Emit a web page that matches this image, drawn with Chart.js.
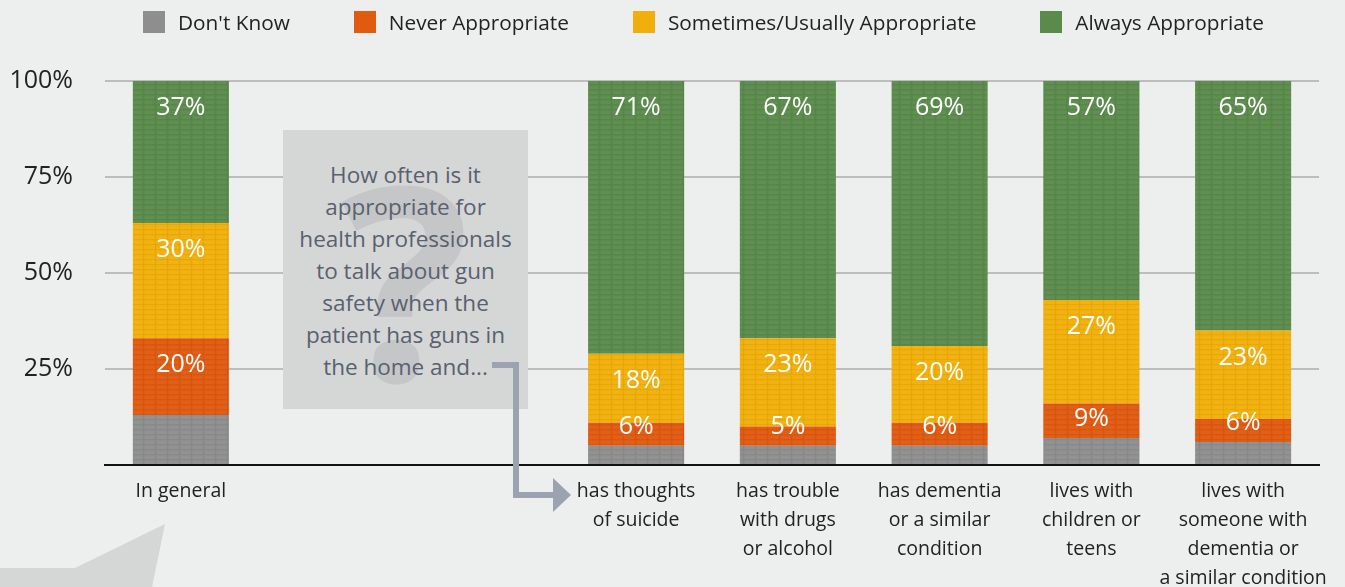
<!DOCTYPE html>
<html lang="en">
<head>
<meta charset="UTF-8" />
<title>Gun safety conversations</title>
<script src="https://cdn.jsdelivr.net/npm/chart.js"></script>
<style>
    body { margin: 0; background: #edefee; font-family: "Open Sans", Lato, sans-serif; }
    .wrap { position: relative; width: 1345px; height: 587px; }
    .legend { position: absolute; left: 143px; top: 11px; display: flex; gap: 64px; font-size: 20.8px; color: #222; }
    .legend span { display: flex; align-items: center; height: 22px; }
    .legend i { display: inline-block; width: 22px; height: 22px; margin-right: 13px; }
    .qbox {
        position: absolute; left: 283px; top: 130px; width: 245px; height: 279px;
        background: #d5d6d6; overflow: hidden;
    }
    .qbox .mark {
        position: absolute; left: 0; right: 0; top: 146px; text-align: center;
        font-size: 270px; font-weight: 700; line-height: 0; color: #c5c6c7;
    }
    .qbox .txt {
        position: absolute; left: 0; right: 0; top: 29px; text-align: center;
        font-size: 22.5px; line-height: 32px; color: #59616e;
    }
    svg { position: absolute; left: 0; top: 0; }
</style>
</head>
<body>
<div class="wrap">
    <canvas id="c" width="1345" height="587"></canvas>
    <div class="legend" id="legend"></div>
    <div class="qbox">
        <div class="mark">?</div>
        <div class="txt">How often is it<br>appropriate for<br>health professionals<br>to talk about gun<br>safety when the<br>patient has guns in<br>the home and...</div>
    </div>
    <svg width="1345" height="587">
        <polygon points="0,568 75,568 165,524 152,587 0,587" fill="#d5d6d6" />
        <polyline points="492,365 516,365 516,495 555,495" fill="none" stroke="#9ba3b0" stroke-width="6" />
        <polygon points="553,478 571,495 553,512" fill="#9ba3b0" />
    </svg>
</div>

<script>
    // categories (two blank slots leave room for the question box)
    const categories = [
        ['In general'],
        '',
        '',
        ['has thoughts', 'of suicide'],
        ['has trouble', 'with drugs', 'or alcohol'],
        ['has dementia', 'or a similar', 'condition'],
        ['lives with', 'children or', 'teens'],
        ['lives with', 'someone with', 'dementia or', 'a similar condition']
    ];

    const dontKnow  = [13, null, null, 5, 5, 5, 7, 6];
    const never     = [20, null, null, 6, 5, 6, 9, 6];
    const sometimes = [30, null, null, 18, 23, 20, 27, 23];
    const always    = [37, null, null, 71, 67, 69, 57, 65];

    const yTicks = [0, 25, 50, 75, 100];

    const seriesNames = ["Don't Know", 'Never Appropriate', 'Sometimes/Usually Appropriate', 'Always Appropriate'];
    const seriesColors = ['#8e8e8e', '#e05a10', '#f1af0b', '#5b8b4c'];

    const canvas = document.getElementById('c');
    const ctx = canvas.getContext('2d');

    // woven texture like the original bars
    function burlap(color) {
        const t = document.createElement('canvas');
        t.width = 12; t.height = 10;
        const g = t.getContext('2d');
        g.fillStyle = color;
        g.fillRect(0, 0, 12, 10);
        g.fillStyle = 'rgba(255,255,255,0.04)';
        g.fillRect(1, 1, 9, 3);
        g.fillRect(1, 6, 9, 3);
        g.fillStyle = 'rgba(0,0,0,0.035)';
        g.fillRect(0, 4, 12, 1);
        g.fillRect(0, 9, 12, 1);
        g.fillRect(11, 0, 1, 10);
        return ctx.createPattern(t, 'repeat');
    }

    // html legend
    const legendEl = document.getElementById('legend');
    seriesNames.forEach((name, i) => {
        const s = document.createElement('span');
        s.innerHTML = '<i style="background:' + seriesColors[i] + '"></i>' + name;
        legendEl.appendChild(s);
    });

    // white percentage labels inside the bars (not for Don't Know)
    const barLabels = {
        id: 'barLabels',
        afterDatasetsDraw(chart) {
            const c = chart.ctx;
            c.save();
            c.fillStyle = '#fff';
            c.font = '25px "Open Sans", sans-serif';
            c.textAlign = 'center';
            c.textBaseline = 'middle';
            chart.data.datasets.forEach((ds, di) => {
                if (di === 0) return;
                chart.getDatasetMeta(di).data.forEach((el, i) => {
                    const v = ds.data[i];
                    if (v == null) return;
                    const y = Math.min(el.y + 27, el.base - 19);
                    c.fillText(v + '%', el.x, y);
                });
            });
            c.restore();
        }
    };

    new Chart(ctx, {
        type: 'bar',
        data: {
            labels: categories,
            datasets: [dontKnow, never, sometimes, always].map((d, i) => ({
                label: seriesNames[i],
                data: d,
                backgroundColor: burlap(seriesColors[i]),
                borderWidth: 0,
                categoryPercentage: 1,
                barPercentage: 0.633
            }))
        },
        options: {
            responsive: false,
            animation: false,
            layout: { padding: { top: 81, right: 26, bottom: 0, left: 0 } },
            plugins: { legend: { display: false }, tooltip: { enabled: false } },
            scales: {
                x: {
                    stacked: true,
                    grid: { display: false },
                    border: { color: '#111', width: 2 },
                    ticks: { color: '#222', font: { size: 19.5, family: '"Open Sans"', lineHeight: 1.49 }, padding: 4, maxRotation: 0, autoSkip: false },
                    afterFit(s) { s.height = 122; }
                },
                y: {
                    stacked: true,
                    min: 0,
                    max: 100,
                    afterBuildTicks(s) { s.ticks = yTicks.map(v => ({ value: v })); },
                    grid: {
                        color: c => c.tick && c.tick.value === 0 ? 'rgba(0,0,0,0)' : '#bdbdbd',
                        lineWidth: 2,
                        drawTicks: false
                    },
                    border: { display: false },
                    ticks: {
                        color: '#222',
                        font: { size: 25, family: '"Open Sans"' },
                        padding: 32,
                        callback: v => v === 0 ? '' : v + '%'
                    },
                    afterFit(s) { s.width = 105; }
                }
            }
        },
        plugins: [barLabels]
    });
</script>
</body>
</html>
